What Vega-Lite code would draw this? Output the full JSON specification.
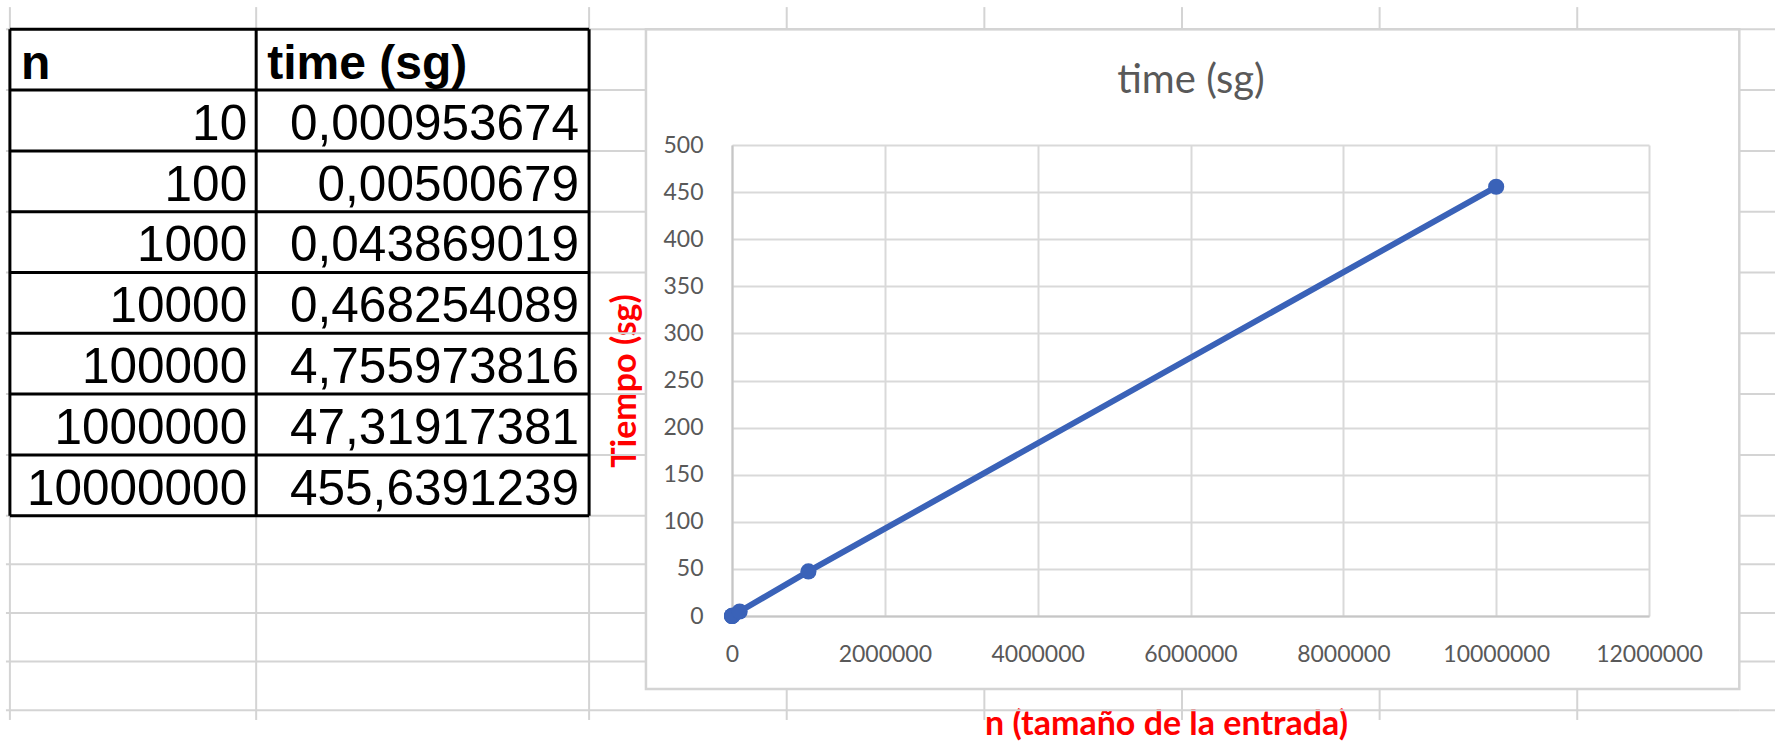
{
  "$schema": "https://vega.github.io/schema/vega-lite/v6.json",
  "background": "white",
  "autosize": {"type": "none"},
  "padding": {"left": 732, "top": 145, "right": 126, "bottom": 126},
  "width": 917,
  "height": 471,
  "config": {
    "view": {"stroke": null},
    "locale": {"number": {"decimal": ",", "thousands": ".", "grouping": [3], "currency": ["", " €"]}}
  },
  "datasets": {
    "runs": [
      {"row": 3, "n": 10, "time": 0.000953674},
      {"row": 4, "n": 100, "time": 0.00500679},
      {"row": 5, "n": 1000, "time": 0.043869019},
      {"row": 6, "n": 10000, "time": 0.468254089},
      {"row": 7, "n": 100000, "time": 4.755973816},
      {"row": 8, "n": 1000000, "time": 47.31917381},
      {"row": 9, "n": 10000000, "time": 455.6391239}
    ],
    "header": [
      {"row": 2, "col": "A", "label": "n"},
      {"row": 2, "col": "B", "label": "time (sg)"}
    ],
    "sheet_rows": [
      {"row": 1, "bottom_pt": 0},
      {"row": 2, "bottom_pt": 20},
      {"row": 3, "bottom_pt": 40},
      {"row": 4, "bottom_pt": 60},
      {"row": 5, "bottom_pt": 80},
      {"row": 6, "bottom_pt": 100},
      {"row": 7, "bottom_pt": 120},
      {"row": 8, "bottom_pt": 140},
      {"row": 9, "bottom_pt": 160},
      {"row": 10, "bottom_pt": 176},
      {"row": 11, "bottom_pt": 192},
      {"row": 12, "bottom_pt": 208},
      {"row": 13, "bottom_pt": 224}
    ],
    "sheet_cols": [
      {"col": "A", "left_pt": 0},
      {"col": "B", "left_pt": 81},
      {"col": "C", "left_pt": 190.5},
      {"col": "D", "left_pt": 255.5},
      {"col": "E", "left_pt": 320.5},
      {"col": "F", "left_pt": 385.5},
      {"col": "G", "left_pt": 450.5},
      {"col": "H", "left_pt": 515.5}
    ]
  },
  "layer": [
    {
      "layer": [
        {
          "data": {"name": "sheet_rows"},
          "mark": {"type": "rule", "color": "#d4d4d4", "strokeWidth": 2},
          "encoding": {
            "y": {"field": "bottom_pt", "type": "quantitative", "scale": {"domain": [38.06, 193.0], "nice": false, "zero": false, "reverse": true}, "axis": null},
            "x": {"datum": -1.3, "type": "quantitative", "scale": {"domain": [237.5, 539.1], "nice": false, "zero": false}, "axis": null},
            "x2": {"datum": 209.2}
          }
        },
        {
          "data": {"name": "sheet_rows"},
          "mark": {"type": "rule", "color": "#d4d4d4", "strokeWidth": 2},
          "encoding": {
            "y": {"field": "bottom_pt", "type": "quantitative", "scale": {"domain": [38.06, 193.0], "nice": false, "zero": false, "reverse": true}, "axis": null},
            "x": {"datum": 568.8, "type": "quantitative", "scale": {"domain": [237.5, 539.1], "nice": false, "zero": false}, "axis": null},
            "x2": {"datum": 580.8}
          }
        },
        {
          "data": {"name": "sheet_rows"},
          "transform": [{"filter": "datum.bottom_pt <= 0 || datum.bottom_pt >= 217"}],
          "mark": {"type": "rule", "color": "#d4d4d4", "strokeWidth": 2},
          "encoding": {
            "y": {"field": "bottom_pt", "type": "quantitative", "scale": {"domain": [38.06, 193.0], "nice": false, "zero": false, "reverse": true}, "axis": null},
            "x": {"datum": 209.2, "type": "quantitative", "scale": {"domain": [237.5, 539.1], "nice": false, "zero": false}, "axis": null},
            "x2": {"datum": 568.8}
          }
        },
        {
          "data": {"name": "sheet_cols"},
          "mark": {"type": "rule", "color": "#d4d4d4", "strokeWidth": 2},
          "encoding": {
            "x": {"field": "left_pt", "type": "quantitative", "scale": {"domain": [237.5, 539.1], "nice": false, "zero": false}, "axis": null},
            "y": {"datum": -7.3, "type": "quantitative", "scale": {"domain": [38.06, 193.0], "nice": false, "zero": false, "reverse": true}, "axis": null},
            "y2": {"datum": 0}
          }
        },
        {
          "data": {"name": "sheet_cols"},
          "mark": {"type": "rule", "color": "#d4d4d4", "strokeWidth": 2},
          "encoding": {
            "x": {"field": "left_pt", "type": "quantitative", "scale": {"domain": [237.5, 539.1], "nice": false, "zero": false}, "axis": null},
            "y": {"datum": 217, "type": "quantitative", "scale": {"domain": [38.06, 193.0], "nice": false, "zero": false, "reverse": true}, "axis": null},
            "y2": {"datum": 227.2}
          }
        },
        {
          "data": {"name": "sheet_cols"},
          "transform": [{"filter": "datum.left_pt <= 209.2 || datum.left_pt >= 568.8"}],
          "mark": {"type": "rule", "color": "#d4d4d4", "strokeWidth": 2},
          "encoding": {
            "x": {"field": "left_pt", "type": "quantitative", "scale": {"domain": [237.5, 539.1], "nice": false, "zero": false}, "axis": null},
            "y": {"datum": 0, "type": "quantitative", "scale": {"domain": [38.06, 193.0], "nice": false, "zero": false, "reverse": true}, "axis": null},
            "y2": {"datum": 217}
          }
        },
        {
          "data": {"name": "sheet_rows"},
          "transform": [{"filter": "datum.bottom_pt <= 160"}],
          "mark": {"type": "rule", "color": "#000000", "strokeWidth": 3},
          "encoding": {
            "y": {"field": "bottom_pt", "type": "quantitative", "scale": {"domain": [38.06, 193.0], "nice": false, "zero": false, "reverse": true}, "axis": null},
            "x": {"datum": 0, "type": "quantitative", "scale": {"domain": [237.5, 539.1], "nice": false, "zero": false}, "axis": null},
            "x2": {"datum": 190.5}
          }
        },
        {
          "data": {"name": "sheet_cols"},
          "transform": [{"filter": "datum.left_pt <= 190.5"}],
          "mark": {"type": "rule", "color": "#000000", "strokeWidth": 3},
          "encoding": {
            "x": {"field": "left_pt", "type": "quantitative", "scale": {"domain": [237.5, 539.1], "nice": false, "zero": false}, "axis": null},
            "y": {"datum": 0, "type": "quantitative", "scale": {"domain": [38.06, 193.0], "nice": false, "zero": false, "reverse": true}, "axis": null},
            "y2": {"datum": 160}
          }
        },
        {
          "data": {"name": "header"},
          "transform": [
            {"lookup": "row", "from": {"data": {"name": "sheet_rows"}, "key": "row", "fields": ["bottom_pt"]}},
            {"lookup": "col", "from": {"data": {"name": "sheet_cols"}, "key": "col", "fields": ["left_pt"]}}
          ],
          "mark": {"type": "text", "align": "left", "baseline": "alphabetic", "dx": 11, "dy": -11, "font": "Liberation Sans", "fontSize": 48, "fontWeight": "bold", "color": "#000000"},
          "encoding": {
            "x": {"field": "left_pt", "type": "quantitative", "scale": {"domain": [237.5, 539.1], "nice": false, "zero": false}, "axis": null},
            "y": {"field": "bottom_pt", "type": "quantitative", "scale": {"domain": [38.06, 193.0], "nice": false, "zero": false, "reverse": true}, "axis": null},
            "text": {"field": "label", "type": "nominal"}
          }
        },
        {
          "data": {"name": "runs"},
          "transform": [
            {"lookup": "row", "from": {"data": {"name": "sheet_rows"}, "key": "row", "fields": ["bottom_pt"]}}
          ],
          "mark": {"type": "text", "align": "right", "baseline": "alphabetic", "dx": -9, "dy": -11, "font": "Liberation Sans", "fontSize": 49.5, "color": "#000000"},
          "encoding": {
            "x": {"datum": 81, "type": "quantitative", "scale": {"domain": [237.5, 539.1], "nice": false, "zero": false}, "axis": null},
            "y": {"field": "bottom_pt", "type": "quantitative", "scale": {"domain": [38.06, 193.0], "nice": false, "zero": false, "reverse": true}, "axis": null},
            "text": {"field": "n", "type": "quantitative", "format": "d"}
          }
        },
        {
          "data": {"name": "runs"},
          "transform": [
            {"lookup": "row", "from": {"data": {"name": "sheet_rows"}, "key": "row", "fields": ["bottom_pt"]}}
          ],
          "mark": {"type": "text", "align": "right", "baseline": "alphabetic", "dx": -10, "dy": -11, "font": "Liberation Sans", "fontSize": 49.5, "color": "#000000"},
          "encoding": {
            "x": {"datum": 190.5, "type": "quantitative", "scale": {"domain": [237.5, 539.1], "nice": false, "zero": false}, "axis": null},
            "y": {"field": "bottom_pt", "type": "quantitative", "scale": {"domain": [38.06, 193.0], "nice": false, "zero": false, "reverse": true}, "axis": null},
            "text": {"field": "time", "type": "quantitative", "format": ".10~g"}
          }
        },
        {
          "data": {"values": [{"object": "Chart 1"}]},
          "mark": {"type": "rect", "filled": false, "color": "#d4d4d4", "strokeWidth": 2.5},
          "encoding": {
            "x": {"datum": 209.2, "type": "quantitative", "scale": {"domain": [237.5, 539.1], "nice": false, "zero": false}, "axis": null},
            "x2": {"datum": 568.8},
            "y": {"datum": 0, "type": "quantitative", "scale": {"domain": [38.06, 193.0], "nice": false, "zero": false, "reverse": true}, "axis": null},
            "y2": {"datum": 217}
          }
        }
      ]
    },
    {
      "layer": [
        {
          "data": {"name": "runs"},
          "mark": {"type": "line", "color": "#3a62b8", "strokeWidth": 6, "point": {"filled": true, "size": 260, "color": "#3a62b8"}},
          "encoding": {
            "x": {
              "field": "n", "type": "quantitative",
              "scale": {"domain": [0, 12000000], "nice": false, "zero": true},
              "axis": {
                "orient": "bottom",
                "values": [0, 2000000, 4000000, 6000000, 8000000, 10000000, 12000000],
                "format": "d",
                "grid": true, "gridColor": "#d9d9d9", "gridWidth": 2,
                "domain": true, "domainColor": "#c6c6c6", "domainWidth": 2,
                "ticks": false,
                "labelFont": "Lato", "labelFontSize": 23, "labelColor": "#595959", "labelPadding": 27,
                "labelFlush": false, "labelOverlap": false,
                "title": "n (tamaño de la entrada)",
                "titleFont": "Lato", "titleFontSize": 34, "titleFontWeight": "bold", "titleColor": "#ff0000",
                "titlePadding": 41, "titleX": 434
              }
            },
            "y": {
              "field": "time", "type": "quantitative",
              "scale": {"domain": [0, 500], "nice": false, "zero": true},
              "axis": {
                "orient": "left",
                "values": [0, 50, 100, 150, 200, 250, 300, 350, 400, 450, 500],
                "format": "d",
                "grid": true, "gridColor": "#d9d9d9", "gridWidth": 2,
                "domain": true, "domainColor": "#c6c6c6", "domainWidth": 2,
                "ticks": false,
                "labelFont": "Lato", "labelFontSize": 23, "labelColor": "#595959", "labelPadding": 29,
                "labelOverlap": false,
                "title": "Tiempo (sg)",
                "titleFont": "Lato", "titleFontSize": 34, "titleFontWeight": "bold", "titleColor": "#ff0000",
                "titlePadding": 20
              }
            },
            "order": {"field": "n", "type": "quantitative"}
          }
        },
        {
          "data": {"name": "runs"},
          "mark": {"type": "point", "opacity": 0},
          "encoding": {
            "x": {
              "field": "n", "type": "quantitative",
              "axis": {
                "orient": "top",
                "labels": false, "ticks": false, "domain": false, "grid": false,
                "title": "time (sg)",
                "titleFont": "Lato", "titleFontSize": 40, "titleFontWeight": "normal", "titleColor": "#595959",
                "titlePadding": 45
              }
            }
          }
        }
      ],
      "resolve": {"axis": {"x": "independent"}}
    }
  ],
  "resolve": {"scale": {"x": "independent", "y": "independent"}}
}
